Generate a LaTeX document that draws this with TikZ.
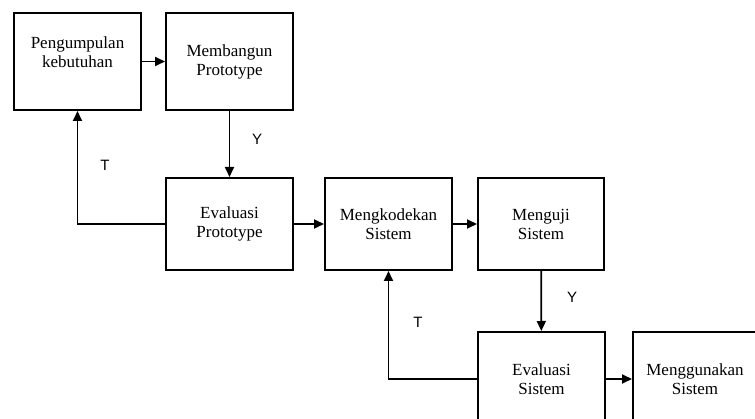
\documentclass[tikz,border=0pt]{standalone}
\usepackage{fontspec}
\setmainfont{Liberation Serif}
\newfontfamily\labelfont{Liberation Sans}
\usetikzlibrary{arrows.meta}
\tikzstyle{blok}=[draw,line width=2pt,minimum width=127pt,minimum height=95pt,align=center,inner sep=2pt,font=\fontsize{17}{19}\selectfont]
\tikzstyle{panah}=[line width=1.8pt,-{Triangle[length=10pt,width=9pt]}]
\tikzstyle{ket}=[font=\labelfont\fontsize{15}{17}\selectfont]

\begin{document}
\begin{tikzpicture}[x=1pt,y=-1pt]
\clip (0,0) rectangle (755,419);
% baris atas
\node[blok,minimum height=97pt] (kumpul) at (77.5,61.5) {Pengumpulan\\kebutuhan\\\phantom{k}};
\node[blok,minimum height=97pt] (bangun) at (229.5,61.5) {Membangun\\Prototype};
% baris tengah
\node[blok,minimum height=92pt] (evalproto) at (229.5,224) {Evaluasi\\Prototype};
\node[blok,minimum height=92pt] (kode) at (388.5,224) {Mengkodekan\\Sistem};
\node[blok,minimum height=92pt,minimum width=126pt] (uji) at (541,224) {Menguji\\Sistem};
% baris bawah
\node[blok,minimum height=94pt] (evalsis) at (541.5,379) {Evaluasi\\Sistem};
\node[blok,minimum height=94pt,minimum width=124pt] (guna) at (695,379) {Menggunakan\\Sistem};

\draw[panah] (kumpul) -- (bangun);
\draw[panah] (bangun) -- (evalproto);
\draw[panah] (evalproto.west) -| (kumpul.south);
\draw[panah] (evalproto) -- (kode);
\draw[panah] (kode) -- (uji);
\draw[panah] (uji) -- (evalsis);
\draw[panah] (evalsis.west) -| (kode.south);
\draw[panah] (evalsis) -- (guna);

\node[ket] (y1) at (257,139) {Y};
\node[ket] (t1) at (105,165) {T};
\node[ket] (y2) at (572,297) {Y};
\node[ket] (t2) at (418,322) {T};
\end{tikzpicture}
\end{document}
